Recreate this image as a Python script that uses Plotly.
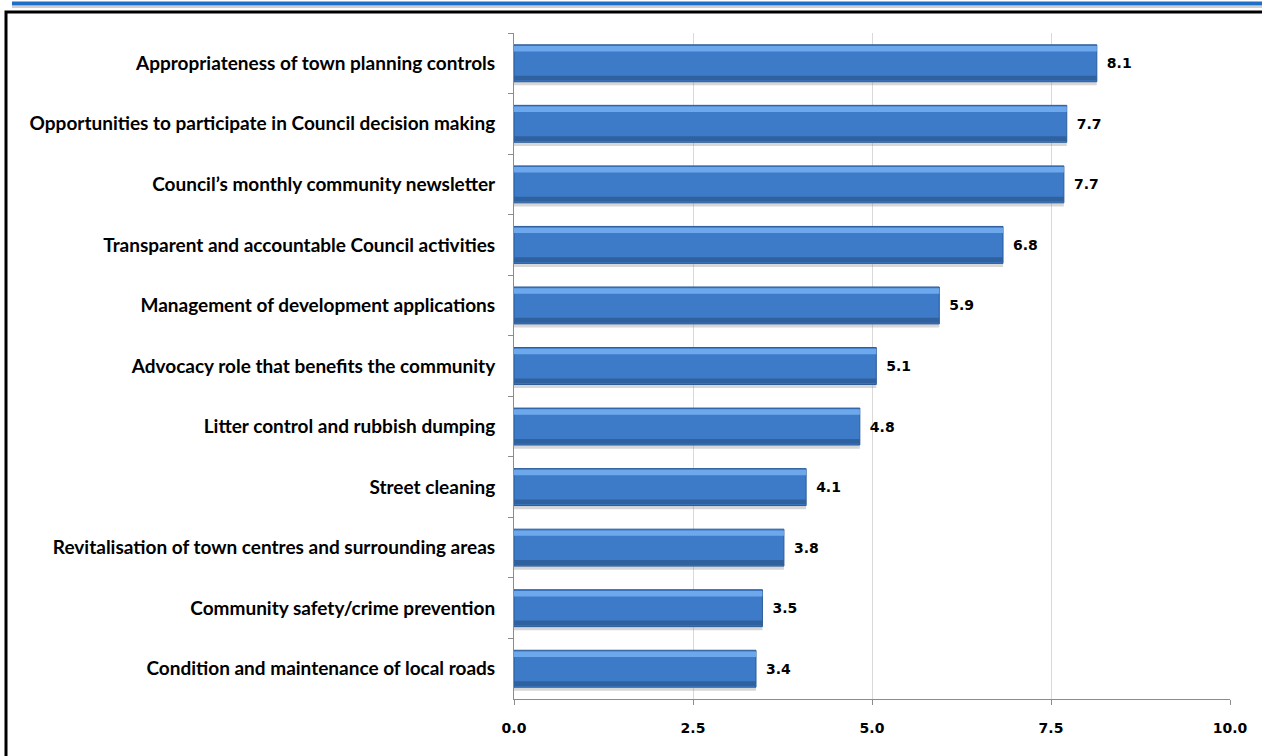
import plotly.graph_objects as go

categories = [
    "Appropriateness of town planning controls",
    "Opportunities to participate in Council decision making",
    "Council\u2019s monthly community newsletter",
    "Transparent and accountable Council activities",
    "Management of development applications",
    "Advocacy role that benefits the community",
    "Litter control and rubbish dumping",
    "Street cleaning",
    "Revitalisation of town centres and surrounding areas",
    "Community safety/crime prevention",
    "Condition and maintenance of local roads",
]
values = [8.14, 7.72, 7.68, 6.83, 5.94, 5.06, 4.83, 4.08, 3.77, 3.47, 3.38]
x_ticks = [0, 2.5, 5, 7.5, 10]
x_tick_labels = ["0.0", "2.5", "5.0", "7.5", "10.0"]

BAR_W = 0.61
fig = go.Figure()

# soft shadow under bars
fig.add_trace(go.Bar(
    x=values, y=categories, orientation="h",
    width=0.07, offset=BAR_W / 2 - 0.01,
    marker=dict(color="rgba(140,140,140,0.35)", line=dict(width=0)),
    hoverinfo="skip", showlegend=False,
))
# main bar
fig.add_trace(go.Bar(
    x=values, y=categories, orientation="h",
    width=BAR_W, offset=-BAR_W / 2,
    marker=dict(color="#3d7bc8", line=dict(color="#2b5b98", width=1)),
    texttemplate="\u2002%{x:.1f}", textposition="outside",
    textfont=dict(family="DejaVu Sans", size=14, color="#000000", weight="bold"),
    cliponaxis=False, showlegend=False,
))
# top highlight
fig.add_trace(go.Bar(
    x=values, y=categories, orientation="h",
    width=0.09, offset=-BAR_W / 2 + 0.02,
    marker=dict(color="#6ea8ec", line=dict(width=0)),
    hoverinfo="skip", showlegend=False,
))
# bottom darker band
fig.add_trace(go.Bar(
    x=values, y=categories, orientation="h",
    width=0.08, offset=BAR_W / 2 - 0.10,
    marker=dict(color="#30619f", line=dict(width=0)),
    hoverinfo="skip", showlegend=False,
))

fig.update_layout(
    width=1262, height=756,
    margin=dict(l=514, r=32, t=33, b=57),
    paper_bgcolor="white", plot_bgcolor="white",
    barmode="overlay",
    showlegend=False,
    font=dict(family="Lato", color="#000000"),
    xaxis=dict(
        range=[0, 10], tickvals=x_ticks, ticktext=x_tick_labels,
        showgrid=True, gridcolor="#d9d9d9", gridwidth=1,
        showline=True, linecolor="#8c8c8c", linewidth=1,
        ticks="outside", ticklen=5, tickcolor="#8c8c8c",
        tickfont=dict(family="DejaVu Sans", size=14, color="#000000", weight="bold"),
        ticklabelstandoff=11,
        zeroline=False, fixedrange=True,
    ),
    yaxis=dict(
        autorange="reversed", type="category",
        showline=True, linecolor="#8c8c8c", linewidth=1,
        ticks="outside", ticklen=5, tickcolor="#8c8c8c", tickson="boundaries",
        tickfont=dict(family="Lato", size=19, color="#000000", weight="bold"),
        ticklabelstandoff=14,
        showgrid=False, zeroline=False,
    ),
    shapes=[
        # outer frame
        dict(type="rect", xref="paper", yref="paper",
             x0=(6 - 514) / 716, x1=1.07, y0=-0.1, y1=(699 - 12) / 666,
             line=dict(color="#000000", width=3), layer="above"),
        # blue rule at top
        dict(type="line", xref="paper", yref="paper",
             x0=(12 - 514) / 716, x1=1.07, y0=(699 - 3.5) / 666, y1=(699 - 3.5) / 666,
             line=dict(color="#1f6fc6", width=4)),
        dict(type="line", xref="paper", yref="paper",
             x0=(12 - 514) / 716, x1=1.07, y0=(699 - 7) / 666, y1=(699 - 7) / 666,
             line=dict(color="#d0d0d0", width=2)),
    ],
)

fig.write_html(
    "out.html",
    config={"displayModeBar": False},
    post_script="document.body.style.margin='0';document.body.style.overflow='hidden';",
)
